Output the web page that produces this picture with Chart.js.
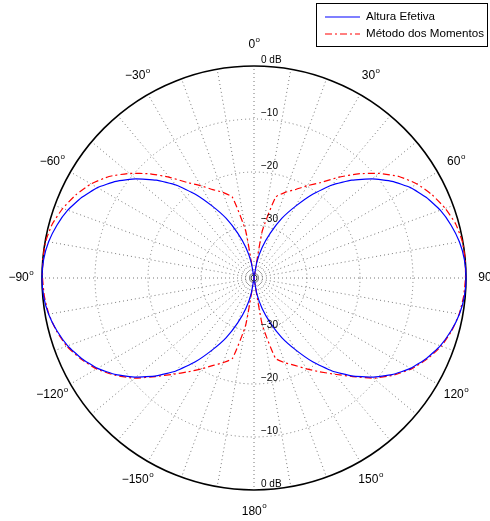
<!DOCTYPE html>
<html>
<head>
<meta charset="utf-8">
<script src="https://cdn.jsdelivr.net/npm/chart.js@4"></script>
<style>
  html, body { margin: 0; padding: 0; background: #fff; }
</style>
</head>
<body>
<canvas id="c" width="490" height="521"></canvas>
<script>
// angle of each sample, degrees clockwise from the top (0 = up, 90 = right)
const angles = [];
for (let a = 0; a < 360; a += 5) angles.push(a);

// radiation pattern in dB, one value per 5 degrees
const alturaEfetiva = [
  -40, -40, -37, -34, -31, -27.6, -24.4, -20.7, -17.1, -13.9, -10.9, -8.2, -5.9, -4.1, -2.6, -1.5, -0.65, -0.15,
  0, -0.15, -0.65, -1.5, -2.6, -4.1, -5.9, -8.2, -10.9, -13.9, -17.1, -20.7, -24.4, -27.6, -31, -34, -37, -40,
  -40, -40, -37, -34, -31, -27.6, -24.4, -20.7, -17.1, -13.9, -10.9, -8.2, -5.9, -4.1, -2.6, -1.5, -0.65, -0.15,
  0, -0.15, -0.65, -1.5, -2.6, -4.1, -5.9, -8.2, -10.9, -13.9, -17.1, -20.7, -24.4, -27.6, -31, -34, -37, -40
];
const metodoMomentos = [
  -40, -40, -31, -24.2, -22.8, -21.6, -19.9, -18.0, -15.2, -12.2, -9.3, -6.6, -4.5, -2.9, -1.6, -0.6, -0.1, 0,
  -0.1, -0.3, -0.7, -1.4, -2.4, -3.9, -5.7, -8.0, -10.6, -13.7, -16.3, -18.4, -20.2, -21.8, -23.0, -24.3, -31, -40,
  -40, -40, -31, -24.3, -23.0, -21.8, -20.2, -18.4, -16.3, -13.7, -10.6, -8.0, -5.7, -3.9, -2.4, -1.4, -0.7, -0.3,
  -0.1, 0, -0.1, -0.6, -1.6, -2.9, -4.5, -6.6, -9.3, -12.2, -15.2, -18.0, -19.9, -21.6, -22.8, -24.2, -31, -40
];

const dbTicks = [0, -10, -20, -30];
const dbLabels = ['0 dB', '\u221210', '\u221220', '\u221230'];
const angleTicks = [0, 30, 60, 90, 120, 150, 180, 210, 240, 270, 300, 330];
const angleLabels = ['0', '30', '60', '90', '120', '150', '180', '\u2212150', '\u2212120', '\u221290', '\u221260', '\u221230'];

const FONT = '"Liberation Sans", Arial, sans-serif';

function degText(ctx, txt, x, y) {
  ctx.font = '12px ' + FONT;
  const w1 = ctx.measureText(txt).width;
  ctx.font = '8px ' + FONT;
  const w2 = ctx.measureText('o').width;
  const x0 = x - (w1 + w2) / 2;
  ctx.textAlign = 'left';
  ctx.textBaseline = 'middle';
  ctx.font = '12px ' + FONT;
  ctx.fillText(txt, x0, y);
  ctx.font = '8px ' + FONT;
  ctx.fillText('o', x0 + w1 + 0.5, y - 5);
}

const overlay = {
  id: 'overlay',
  afterDatasetsDraw(chart) {
    const s = chart.scales.r;
    const ctx = chart.ctx;
    ctx.save();
    // little ring in the middle
    ctx.strokeStyle = '#444';
    ctx.lineWidth = 1;
    ctx.beginPath();
    ctx.arc(s.xCenter, s.yCenter, 3, 0, Math.PI * 2);
    ctx.stroke();

    // dB labels, above and below the centre
    ctx.fillStyle = '#000';
    ctx.font = '10px ' + FONT;
    ctx.textAlign = 'left';
    ctx.textBaseline = 'alphabetic';
    dbTicks.forEach((v, i) => {
      const d = s.getDistanceFromCenterForValue(v);
      ctx.fillText(dbLabels[i], s.xCenter + 7, s.yCenter - d - 3);
      ctx.fillText(dbLabels[i], s.xCenter + 7, s.yCenter + d - 3);
    });

    // angle labels
    angleTicks.forEach((a, i) => {
      const p = s.getPointPosition(angles.indexOf(a), s.drawingArea * 1.1);
      degText(ctx, angleLabels[i], p.x, p.y);
    });

    // legend box
    ctx.fillStyle = '#fff';
    ctx.fillRect(316, 3, 172, 44);
    ctx.strokeStyle = '#000';
    ctx.lineWidth = 1;
    ctx.strokeRect(316.5, 3.5, 171, 43);
    chart.data.datasets.forEach((ds, i) => {
      const y = 17 + i * 17;
      ctx.strokeStyle = ds.borderColor;
      ctx.lineWidth = ds.borderWidth;
      ctx.setLineDash(ds.borderDash || []);
      ctx.beginPath();
      ctx.moveTo(325, y);
      ctx.lineTo(360, y);
      ctx.stroke();
      ctx.setLineDash([]);
      ctx.fillStyle = '#000';
      ctx.font = '11.6px ' + FONT;
      ctx.textAlign = 'left';
      ctx.textBaseline = 'middle';
      ctx.fillText(ds.label, 366, y);
    });
    ctx.restore();
  }
};

new Chart(document.getElementById('c'), {
  type: 'radar',
  data: {
    labels: angles,
    datasets: [
      {
        label: 'Altura Efetiva',
        data: alturaEfetiva,
        borderColor: '#0000ff',
        borderWidth: 1.2,
        backgroundColor: 'transparent',
        fill: false,
        pointRadius: 0,
        tension: 0.15
      },
      {
        label: 'M\u00e9todo dos Momentos',
        data: metodoMomentos,
        borderColor: '#ff0000',
        borderWidth: 1.2,
        borderDash: [7, 3, 2, 3],
        backgroundColor: 'transparent',
        fill: false,
        pointRadius: 0,
        tension: 0.15
      }
    ]
  },
  options: {
    responsive: false,
    devicePixelRatio: 1,
    animation: false,
    layout: { padding: { left: 42, right: 24, top: 66, bottom: 31 } },
    plugins: { legend: { display: false }, tooltip: { enabled: false } },
    scales: {
      r: {
        min: -40,
        max: 0,
        ticks: { display: false, stepSize: 10 },
        pointLabels: { display: false },
        grid: {
          circular: true,
          color: c => c.tick && c.tick.value === 0 ? '#000' : '#777',
          lineWidth: c => c.tick && c.tick.value === 0 ? 1.6 : 1
        },
        border: {
          dash: c => c.tick && c.tick.value === 0 ? [] : [1, 3]
        },
        angleLines: {
          color: '#777',
          lineWidth: c => c.index % 2 === 0 ? 1 : 0,
          borderDash: [1, 3]
        }
      }
    }
  },
  plugins: [overlay]
});
</script>
</body>
</html>
